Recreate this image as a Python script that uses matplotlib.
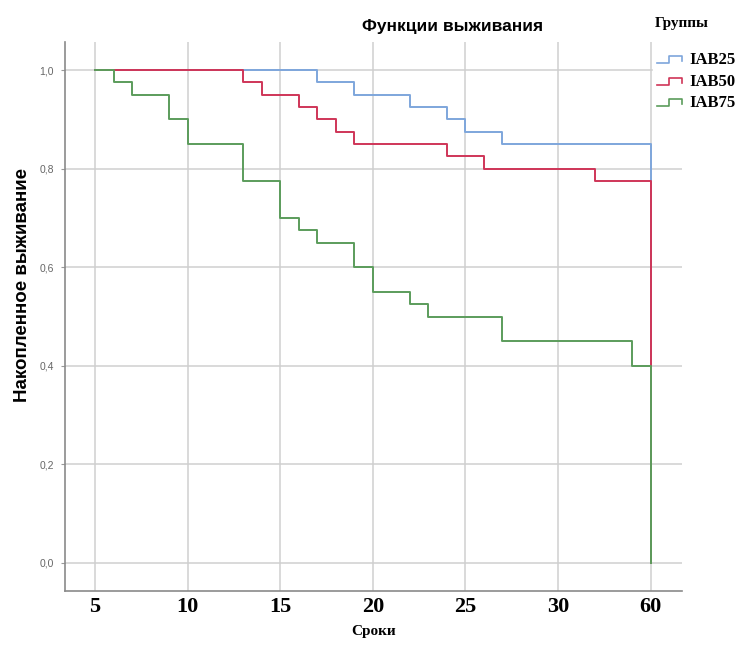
import matplotlib.pyplot as plt
from matplotlib.lines import Line2D

# сроки (позиции по оси) и накопленное выживание по группам
t_iab25 = [5, 17, 19, 22, 24, 25, 27, 35]
s_iab25 = [1.0, 0.975, 0.95, 0.925, 0.90, 0.875, 0.85, 0.0]

t_iab50 = [5, 13, 14, 16, 17, 18, 19, 24, 26, 32, 35]
s_iab50 = [1.0, 0.975, 0.95, 0.925, 0.90, 0.875, 0.85, 0.825, 0.80, 0.775, 0.0]

t_iab75 = [5, 6, 7, 9, 10, 13, 15, 16, 17, 19, 20, 22, 23, 27, 34, 35]
s_iab75 = [1.0, 0.975, 0.95, 0.90, 0.85, 0.775, 0.70, 0.675, 0.65, 0.60,
           0.55, 0.525, 0.50, 0.45, 0.40, 0.0]

x_ticks = [5, 10, 15, 20, 25, 30, 35]
x_labels = ["5", "10", "15", "20", "25", "30", "60"]
y_ticks = [0.0, 0.2, 0.4, 0.6, 0.8, 1.0]
y_labels = ["0,0", "0,2", "0,4", "0,6", "0,8", "1,0"]

groups = ["IAB25", "IAB50", "IAB75"]
colors = ["#7ea6dc", "#cf3558", "#5b9c5b"]

W, H = 744, 648
fig = plt.figure(figsize=(W / 100, H / 100), dpi=100)
ax = fig.add_axes([65 / W, 1 - 591 / H, (682 - 65) / W, (591 - 42) / H])

ax.step(t_iab25, s_iab25, where="post", color=colors[0], lw=1.4, zorder=3)
ax.step(t_iab50, s_iab50, where="post", color=colors[1], lw=1.4, zorder=4)
ax.step(t_iab75, s_iab75, where="post", color=colors[2], lw=1.4, zorder=5)

ax.set_xlim(3.38, 36.7)
ax.set_ylim(-0.057, 1.057)
ax.set_xticks(x_ticks)
ax.set_xticklabels(x_labels, fontfamily="Liberation Serif", fontweight="bold", fontsize=16)
ax.set_yticks(y_ticks)
ax.set_yticklabels(y_labels, fontfamily="Liberation Sans", fontsize=7.5, color="#666666")
ax.tick_params(axis="x", length=0, pad=4)
ax.tick_params(axis="y", length=3, color="#999999", pad=5)
ax.grid(True, color="#cfcfcf", lw=1.1, zorder=0)
ax.set_axisbelow(True)

for side in ["top", "right"]:
    ax.spines[side].set_visible(False)
for side in ["left", "bottom"]:
    ax.spines[side].set_color("#8a8a8a")
    ax.spines[side].set_linewidth(1.2)

ax.set_xlabel("Сроки", fontfamily="Liberation Serif", fontweight="bold", fontsize=11, labelpad=6)
ax.set_ylabel("Накопленное выживание", fontfamily="Liberation Sans", fontweight="bold",
              fontsize=13.5)
ax.yaxis.set_label_coords((31 - 65) / 617, (591 - 285) / 549)

fig.text(453 / W, 1 - 27 / H, "Функции выживания", ha="center", va="center",
         fontfamily="Liberation Sans", fontsize=12.5, fontweight="bold")

# легенда вручную: белая подложка, заголовок и ступенчатые значки
fig.patches.append(plt.Rectangle((653 / W, 1 - 125 / H), (W - 653) / W, 125 / H,
                                 transform=fig.transFigure, color="white", zorder=10))
fig.text(655 / W, 1 - 23 / H, "Группы", ha="left", va="center",
         fontfamily="Liberation Serif", fontsize=11, fontweight="bold", zorder=11)
y_rows = [60, 82, 103]
for name, col, yc in zip(groups, colors, y_rows):
    xs = [657, 669, 669, 682, 682]
    ys = [yc + 3, yc + 3, yc - 4, yc - 4, yc + 1]
    fig.add_artist(Line2D([x / W for x in xs], [1 - y / H for y in ys],
                          transform=fig.transFigure, color=col, lw=1.2, zorder=11))
    fig.text(689 / W, 1 - yc / H, name, ha="left", va="center",
             fontfamily="Liberation Serif", fontsize=12, fontweight="bold", zorder=11)

fig.savefig("out.png", dpi=100)
